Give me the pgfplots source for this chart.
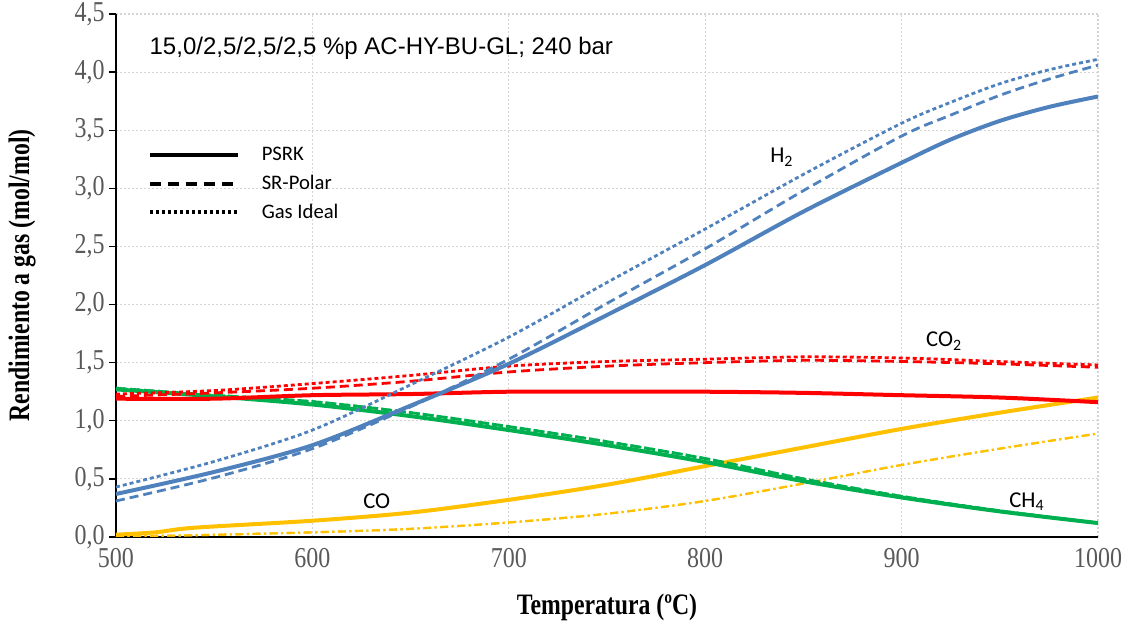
\documentclass[border=0pt]{standalone}
\usepackage{fontspec}
\setmainfont{Liberation Serif}
\newfontfamily\calibri{Carlito}
\newfontfamily\arialfont{Liberation Sans}
\usepackage{pgfplots}
\usepackage{pgfplotstable}
\pgfplotsset{compat=1.18}

\definecolor{hblue}{HTML}{4F81BD}
\definecolor{cred}{HTML}{FF0000}
\definecolor{mgreen}{HTML}{00B050}
\definecolor{coyel}{HTML}{FFC000}
\definecolor{ticgray}{HTML}{595959}
\definecolor{gridgray}{HTML}{D4D4D4}

% Gas yield (mol/mol) vs temperature, three equations of state
\pgfplotstableread{
T    psrk  srp   ideal
500  0.37  0.31  0.43
550  0.56  0.51  0.65
600  0.79  0.76  0.92
650  1.13  1.12  1.31
700  1.49  1.53  1.72
750  1.91  2.01  2.19
800  2.34  2.48  2.65
850  2.80  2.98  3.12
900  3.22  3.45  3.56
925  3.42  3.63  3.74
950  3.58  3.80  3.90
975  3.70  3.94  4.02
1000 3.79  4.06  4.11
}\hydrogen

\pgfplotstableread{
T    psrk  srp   ideal
500  1.19  1.21  1.23
550  1.19  1.24  1.26
600  1.22  1.28  1.32
650  1.23  1.34  1.39
700  1.25  1.42  1.47
750  1.25  1.47  1.51
800  1.25  1.50  1.53
850  1.24  1.52  1.55
900  1.22  1.51  1.54
950  1.20  1.49  1.51
1000 1.16  1.46  1.48
}\carbondioxide

\pgfplotstableread{
T    psrk   srp    ideal
500  1.27   1.28   1.28
550  1.21   1.22   1.22
600  1.14   1.165  1.165
650  1.04   1.07   1.07
700  0.92   0.95   0.95
750  0.79   0.82   0.82
800  0.645  0.675  0.675
850  0.48   0.50   0.50
900  0.34   0.35   0.35
950  0.22   0.225  0.225
1000 0.12   0.12   0.12
}\methane

\pgfplotstableread{
T    psrk  srp    ideal
500  0.02  0.00   0.00
520  0.04  0.01   0.01
540  0.08  0.015  0.015
600  0.14  0.04   0.04
650  0.21  0.07   0.07
700  0.32  0.125  0.125
750  0.45  0.20   0.20
800  0.61  0.31   0.31
850  0.77  0.46   0.46
900  0.93  0.62   0.62
950  1.07  0.76   0.76
1000 1.20  0.89   0.89
}\carbonmonoxide

\pgfplotsset{
  psrk/.style={line width=3pt, solid},
  srp/.style={line width=2.1pt, dash pattern=on 6.75pt off 3.75pt},
  ideal/.style={line width=2.1pt, dash pattern=on 3pt off 2.25pt},
  codash/.style={line width=1.6pt, dash pattern=on 6pt off 2.6pt on 1.6pt off 2.6pt},
}
\newcommand{\tl}[1]{\scalebox{1}[1.2]{#1}}

\begin{document}
\begin{tikzpicture}
\path[use as bounding box] (-87pt,-64.5pt) rectangle (756pt,402.75pt);
\begin{axis}[
  at={(0,0)}, anchor=south west,
  scale only axis, width=736.5pt, height=392.25pt,
  xmin=500, xmax=1000, ymin=0, ymax=4.5,
  xtick={500,600,700,800,900,1000},
  xticklabels={\tl{500},\tl{600},\tl{700},\tl{800},\tl{900},\tl{1000}},
  ytick={0,0.5,1,1.5,2,2.5,3,3.5,4,4.5},
  yticklabels={\tl{0,0},\tl{0,5},\tl{1,0},\tl{1,5},\tl{2,0},\tl{2,5},\tl{3,0},\tl{3,5},\tl{4,0},\tl{4,5}},
  axis x line*=bottom, axis y line*=left,
  axis line style={black, line width=1.4pt, -},
  grid=major,
  grid style={gridgray, line width=0.8pt, dash pattern=on 1.5pt off 1.5pt},
  tick align=outside,
  x tick style={draw=none},
  y tick style={black, line width=1pt},
  major tick length=5pt,
  ticklabel style={font=\fontsize{18}{20}\selectfont, text=ticgray},
  xlabel={\scalebox{1}[1.25]{\bfseries Temperatura (ºC)}},
  ylabel={\scalebox{1}[1.25]{\bfseries Rendimiento a gas (mol/mol)}},
  label style={font=\fontsize{17.8}{20}\selectfont},
  xlabel style={at={(axis description cs:0.5,-0.134)}, anchor=center},
  ylabel style={at={(axis description cs:-0.0957,0.5)}, anchor=center},
  legend cell align=left,
  legend image code/.code={\draw[#1] (0pt,0pt) -- (66pt,0pt);},
  legend style={at={(axis cs:514,3.435)}, anchor=north west, draw=none, fill=none,
    font=\calibri\fontsize{15.5}{18}\selectfont,
    nodes={inner sep=0pt, text height=15pt, text depth=6.5pt},
    /tikz/every odd column/.append style={column sep=16.5pt}},
]
% legend keys
\addlegendimage{black, line width=3pt}
\addlegendentry{PSRK}
\addlegendimage{black, line width=3pt, dash pattern=on 8.5pt off 5pt}
\addlegendentry{SR-Polar}
\addlegendimage{black, line width=3pt, dash pattern=on 2.25pt off 2.25pt}
\addlegendentry{Gas Ideal}

% CO
\addplot[coyel, codash, smooth, forget plot] table[x=T, y=ideal] {\carbonmonoxide};
\addplot[coyel, codash, smooth, forget plot] table[x=T, y=srp] {\carbonmonoxide};
\addplot[coyel, psrk, smooth, forget plot] table[x=T, y=psrk] {\carbonmonoxide};
% CH4
\addplot[mgreen, ideal, smooth, forget plot] table[x=T, y=ideal] {\methane};
\addplot[mgreen, srp, smooth, forget plot] table[x=T, y=srp] {\methane};
\addplot[mgreen, psrk, smooth, forget plot] table[x=T, y=psrk] {\methane};
% CO2
\addplot[cred, ideal, smooth, forget plot] table[x=T, y=ideal] {\carbondioxide};
\addplot[cred, srp, smooth, forget plot] table[x=T, y=srp] {\carbondioxide};
\addplot[cred, psrk, smooth, forget plot] table[x=T, y=psrk] {\carbondioxide};
% H2
\addplot[hblue, ideal, smooth, forget plot] table[x=T, y=ideal] {\hydrogen};
\addplot[hblue, srp, smooth, forget plot] table[x=T, y=srp] {\hydrogen};
\addplot[hblue, psrk, smooth, forget plot] table[x=T, y=psrk] {\hydrogen};

% species labels and conditions
\node[anchor=base west, inner sep=0pt, font=\arialfont\fontsize{18}{20}\selectfont]
  at (axis cs:517,4.148) {15,0/2,5/2,5/2,5 \%p AC-HY-BU-GL; 240 bar};
\node[anchor=base west, inner sep=0pt, font=\calibri\fontsize{17}{20}\selectfont]
  at (axis cs:833,3.22) {H\textsubscript{2}};
\node[anchor=base west, inner sep=0pt, font=\calibri\fontsize{17}{20}\selectfont]
  at (axis cs:912.4,1.635) {CO\textsubscript{2}};
\node[anchor=base west, inner sep=0pt, font=\calibri\fontsize{17}{20}\selectfont]
  at (axis cs:625.8,0.241) {CO};
\node[anchor=base west, inner sep=0pt, font=\calibri\fontsize{17}{20}\selectfont]
  at (axis cs:954.7,0.258) {CH\textsubscript{4}};
\end{axis}
\end{tikzpicture}
\end{document}
